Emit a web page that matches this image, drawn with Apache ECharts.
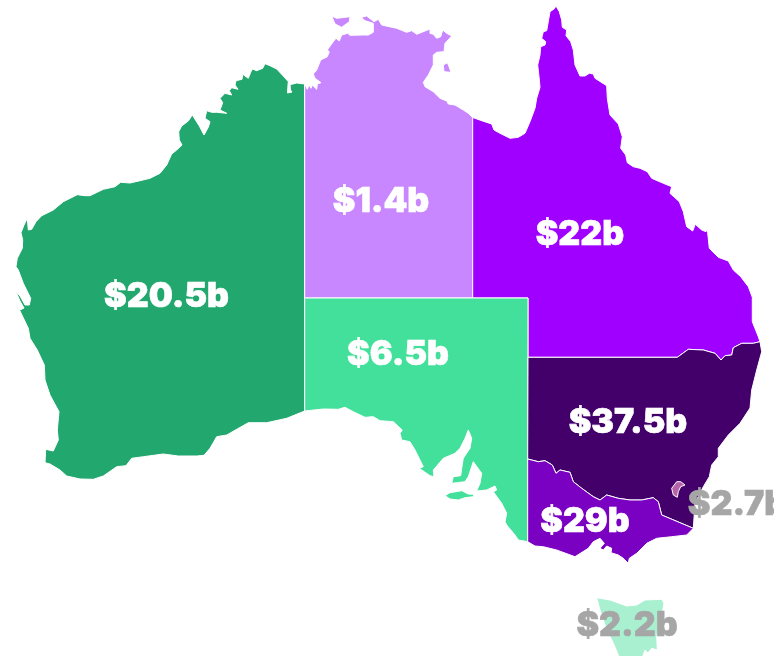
<!DOCTYPE html>
<html>
<head>
<meta charset="utf-8">
<style>html,body{margin:0;padding:0;background:#fff;overflow:hidden}#c{width:774px;height:656px}</style>
<script src="https://cdn.jsdelivr.net/npm/echarts@6/dist/echarts.min.js"></script>
</head>
<body>
<div id="c"></div>
<script>
// Values
const states = ['Western Australia','Northern Territory','Queensland','South Australia','New South Wales','Victoria','Tasmania','Australian Capital Territory'];
const funding = [20.5, 1.4, 22, 6.5, 37.5, 29, 2.2, 2.7];
const fillColors = ['#22a86e','#c987ff','#a000ff','#43e09b','#43006b','#7a00c2','#a8f0d0','#b565a7'];
const labelColors = ['#fff','#fff','#fff','#fff','#fff','#fff','#a6a6a6','#a6a6a6'];

// Map outline (basemap geometry in the reference's map space)
const nswQldBorder = [[528,357.3],[677.3,357.3],[688.3,349.3],[703.3,350],[715,353.3],[721,360],[725,355.7],[731.7,355],[733.3,347.7],[741.7,343.3],[753.3,343.3],[760,341.7]];
const nswVicBorder = [[693.3,528.3],[661.7,515],[658.3,501.7],[653.3,497.7],[641.7,500],[630,500],[618.3,498.3],[606.7,495],[600,500],[593.3,496.7],[581.7,488.3],[573.3,481.7],[570,472.3],[560,470],[556,473.3],[552.3,465],[545,460.7],[538.3,461.7],[527.7,459]];

const waRing = [[304.7,84],[296.7,83],[290,84.7],[290.5,90],[292,92],[287.5,93],[288,85],[288.3,81.7],[283.3,76],[276.7,69],[270,65.7],[265,63.7],[262.7,68.3],[256.7,70.7],[252.3,69],[250.7,72.3],[248.3,78.3],[242.7,74.3],[242,79.3],[236,80.7],[235,85],[238,89.3],[231.7,87.7],[229.3,90.7],[231.7,95],[225,93.3],[220,98.3],[222.7,102.7],[220,110],[226.7,113.3],[216.7,112.3],[211.7,112.3],[206.7,110.7],[205,118.3],[210,121.7],[208.3,127.3],[204,135],[199.3,126],[192.3,115],[188.3,121],[181.7,126],[178.7,131.7],[179.3,140],[182,145],[176.7,150],[171.7,154],[166.7,165],[160,173.3],[150,178.3],[140,180.7],[130,183],[120.7,182.3],[115,186.7],[103.3,189.3],[90,195.7],[85,195.7],[77.3,194.7],[63.3,201.7],[53.3,210],[41.7,215.7],[36,221.7],[31.7,229.3],[28.3,230],[27.3,218.3],[24,225],[21,232.7],[22.7,240],[22.3,248.3],[17.3,258.3],[16,266.7],[18.3,270],[23.3,283.3],[30.7,298.3],[29.3,305],[25,305],[20,296],[16,291.7],[20,301],[24,308],[20,310],[13.3,303],[20,311],[28.3,328.3],[30,338.3],[37.3,350],[44.3,365],[45,380],[50,395],[59,411.7],[57.3,430],[58.3,440],[53.3,451],[45.7,449.3],[45,462.7],[50,464],[60,470],[66.7,476],[80,479],[93.3,479.3],[103.3,476],[116.7,466.7],[126,465.7],[131.7,458.3],[143.3,456.7],[163.3,454],[178.3,456],[196.7,456],[204,455.3],[210,448.3],[216.7,436.7],[226.7,435],[248.3,422.7],[266.7,422.7],[286.7,418.3],[304.7,411]];

const ntRing = [[304.7,84],[307.3,89.3],[309,85],[311,88.3],[312.3,85],[316.7,89.3],[317.3,84],[321,82.7],[315,78.3],[313.3,74],[316.7,70],[320.7,60],[327.3,56.7],[329.3,51.7],[327.3,50],[333.3,41.7],[336,38.3],[339.3,41],[341.7,35],[347.7,33.3],[350,35.3],[363.3,35],[368.3,35],[373.3,32.3],[373.3,23.3],[365,20.7],[359.3,15.7],[361.7,17.3],[366.7,16],[372.7,20.7],[374,21.7],[378.3,19.3],[381.7,25],[396.7,28.3],[406.7,32.3],[411.7,30.7],[416.7,34.3],[430,29],[430,33.3],[433.3,34.3],[436.7,38.3],[440.7,36.7],[442.7,30],[446.7,33.3],[451.7,36],[445,43.3],[444,51.7],[436.7,52.3],[433.3,55],[433.3,65],[428.3,75],[423.3,82.3],[425,86.7],[433.3,91.7],[440,98.3],[446.7,101],[448.3,104],[455,105],[463.3,110],[468.3,113.3],[472.7,117.5],[472.7,298],[304.7,298]];
const bathurstRing = [[331.7,16],[336.7,18.3],[345,17.3],[350,16.7],[349.3,21.7],[341.7,27.3],[335,24]];
const grooteRing = [[443.3,65],[447.3,62.7],[449,66.7],[451,72.3],[444,71.7]];

const qldCoast = [[472.7,117.5],[481.7,120.7],[491.7,124],[494,130],[500,133.3],[510,138.3],[518.3,137.3],[525,133.3],[530,121.7],[535,108.3],[536.7,98.3],[540,87.3],[539,76.7],[537.7,65],[540,55],[540.7,46.7],[545,45],[545.7,41.7],[541.7,38.3],[543.3,31.7],[546.7,30.7],[550,11.7],[554,9],[556,6],[559.3,11.7],[561.7,20],[562.3,27.3],[566.7,30],[566,35.7],[570.7,41.7],[573.3,50],[575,65],[580,76],[585,76],[589.3,73.3],[593.3,74],[595,78.3],[606.7,85.7],[607.3,98.3],[610,115],[618.3,124],[622.3,136.7],[620.7,148.3],[625.7,155],[627.3,162.7],[633.3,166.7],[640,168.3],[647.3,171.7],[651.7,178.3],[663.3,183.3],[671.7,186.7],[670,193.3],[679.3,201.7],[683.3,211.7],[686.7,226.7],[692.7,231],[695.3,224.3],[701.7,230],[706,231.7],[707.3,229.3],[709.3,248.3],[718.3,257.3],[728.3,261],[733.3,270],[740.7,276.7],[748.3,286.7],[752.3,297.3],[752.3,321.7],[758.3,336.7],[760,341.7]];
const qldRing = qldCoast.concat(nswQldBorder.slice().reverse().slice(1), [[528,298],[472.7,298]]);

const saRing = [[304.7,298],[528,298],[527.7,541.7],[518.3,540],[515,535],[506.7,525],[505,521.7],[506.7,513.3],[501.7,503.3],[493.3,491.7],[496.7,490],[495,486],[486.7,490],[476.7,491],[480,483.3],[481.7,473.3],[473.3,461.7],[468.3,476.7],[465,481.7],[451.7,483.3],[453.3,476.7],[460.7,475.7],[461.7,468.3],[463.3,458.3],[470,448.3],[471.7,438.3],[468.3,430],[465,438.3],[460,448.3],[455,453.3],[443.3,458.3],[433.3,470],[434,476.7],[430,475.7],[419.3,468.3],[423.3,466.7],[415,450],[410,441.7],[401.7,440],[400,433.3],[402.3,430],[393.3,421.7],[380,420.7],[373.3,416.7],[365,417.3],[353.3,411.7],[345,407.3],[338.3,409.3],[323.3,409],[304.7,411]];
const kangarooRing = [[445,495.7],[450,492.7],[461.7,490.7],[468.3,494],[474,494.3],[473.3,496.7],[465,497.7],[458.3,500],[450,499]];

const nswEast = [[761.7,351.7],[756.7,370],[751.7,390],[750,408],[740,423.3],[728.3,435],[718.3,448.3],[718.3,456.7],[711.7,465],[709.3,476.7],[703.3,486.7],[695,503.3],[693.3,528.3]];
const nswRing = nswQldBorder.concat(nswEast, nswVicBorder.slice(1));

const vicCoastEastToWest = [[686.7,535],[671.7,536.7],[656.7,538.3],[646.7,543.3],[636.7,553.3],[629.3,558.3],[628.3,563.3],[623.3,558.3],[618.3,555],[611,552.7],[611.7,548.3],[606.7,546],[603.3,550],[600,548.3],[604.3,543.3],[600,538.3],[593.3,541.7],[588.3,548.3],[575,556.7],[556.7,550],[543.3,546.7],[535,546],[527.7,541.7]];
const vicRing = nswVicBorder.slice().reverse().concat(vicCoastEastToWest);

const tasRing = [[596.7,597.7],[610,600],[626.7,606],[636.7,605],[645,600],[661.7,599.3],[664,603],[661.7,616.7],[656.7,636.7],[657.3,650],[651.7,648.3],[648,653],[645,650],[640,664],[622,664],[613.3,643],[606.7,630],[600,610]];
const actRing = [[671.7,488.3],[676.7,481.7],[680.7,481.7],[685,485],[680.7,486.7],[678.3,491.7],[677.3,497.3],[673.3,495]];

const shapes = [[waRing],[ntRing,bathurstRing,grooteRing],[qldRing],[saRing,kangarooRing],[nswRing],[vicRing],[tasRing],[actRing]];
const labelAnchors = [[166.5,297],[381,202],[580,235],[398,355],[628,423],[585,522],[627,625.5],[737,504.5]];

const geo = {type:'FeatureCollection',features:states.map((name,i)=>({
  type:'Feature',
  properties:{name,cp:labelAnchors[i]},
  geometry:{type:'MultiPolygon',coordinates:shapes[i].map(r=>[r.concat([r[0]])])}
}))};
echarts.registerMap('aus',geo);

const chart = echarts.init(document.getElementById('c'),null,{renderer:'canvas'});
chart.setOption({
  animation:false,
  backgroundColor:'#fff',
  series:[{
    type:'map',map:'aus',silent:true,roam:false,selectedMode:false,
    projection:{project:p=>p,unproject:p=>p},
    boundingCoords:[[0,0],[774,656]],
    left:0,top:0,width:774,height:656,
    itemStyle:{borderColor:'#fff',borderWidth:1},
    emphasis:{disabled:true},
    label:{show:true,fontFamily:'Inter',fontWeight:900,fontSize:34,
      formatter:p=>'$'+p.value+'b'},
    labelLayout:{hideOverlap:false},
    data:states.map((name,i)=>({name,value:funding[i],
      itemStyle:{areaColor:fillColors[i]},
      label:{color:labelColors[i],textBorderColor:labelColors[i],textBorderWidth:0.6}}))
  }]
});
</script>
</body>
</html>
